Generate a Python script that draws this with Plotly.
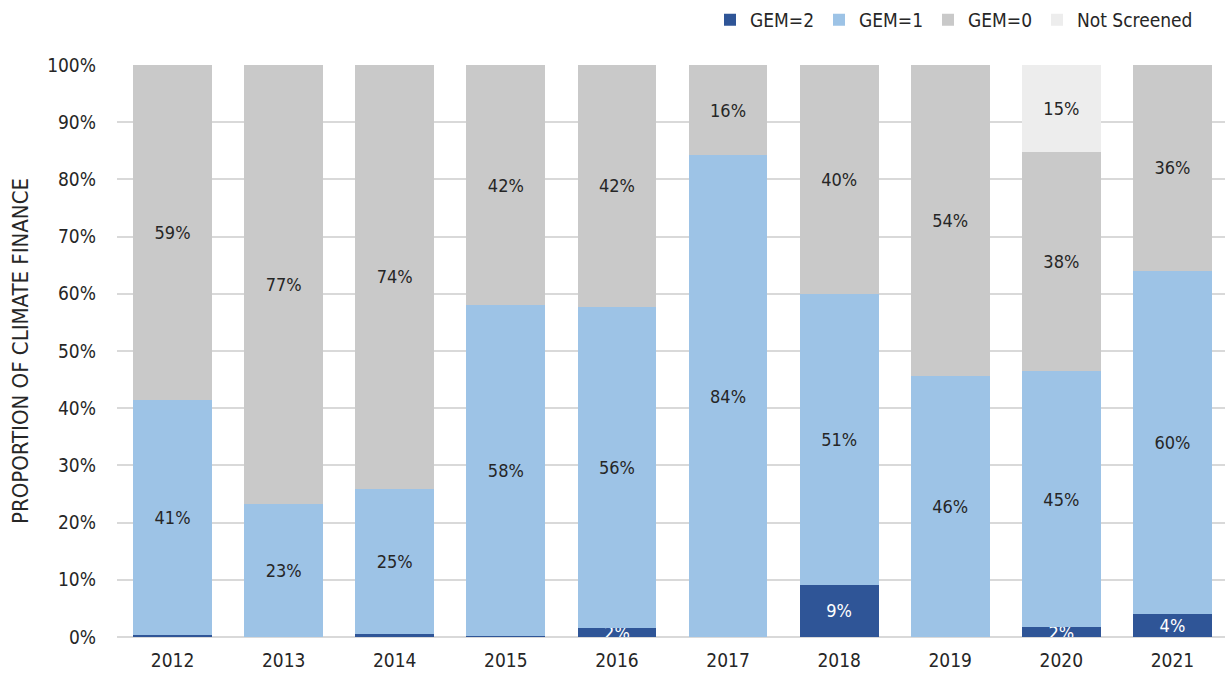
import plotly.graph_objects as go

# Share of climate finance by gender equality marker (values in %)
years = ["2012", "2013", "2014", "2015", "2016", "2017", "2018", "2019", "2020", "2021"]
gem2 = [0.4, 0.0, 0.5, 0.1, 1.6, 0.0, 9.1, 0.0, 1.7, 4.0]
gem1 = [41.0, 23.2, 25.4, 57.9, 56.1, 84.2, 50.9, 45.6, 44.8, 60.0]
gem0 = [58.6, 76.8, 74.1, 42.0, 42.3, 15.8, 40.0, 54.4, 38.3, 36.0]
not_screened = [0, 0, 0, 0, 0, 0, 0, 0, 15.2, 0]

y_ticks = [0, 10, 20, 30, 40, 50, 60, 70, 80, 90, 100]

FONT = "DejaVu Sans Condensed, Liberation Sans Narrow, sans-serif"
DARK = "#262626"
SIZE = 19


def labels(vals):
    # only label segments of at least 1%
    return [f"{round(v)}%" if v >= 1 else "" for v in vals]


series = [
    ("GEM=2", gem2, "#2F5597", "white"),
    ("GEM=1", gem1, "#9DC3E6", DARK),
    ("GEM=0", gem0, "#C9C9C9", DARK),
    ("Not Screened", not_screened, "#EDEDED", DARK),
]

fig = go.Figure()
for name, vals, color, txtcolor in series:
    fig.add_trace(go.Bar(
        x=years,
        y=vals,
        name=name,
        marker=dict(color=color, line=dict(width=0)),
        text=labels(vals),
        textposition="inside",
        insidetextanchor="middle",
        constraintext="none",
        textfont=dict(family=FONT, size=18, color=txtcolor),
        hoverinfo="x+y+name",
    ))

fig.update_layout(
    barmode="stack",
    bargap=0.29,
    width=1228,
    height=682,
    margin=dict(l=117, r=0, t=65, b=45, autoexpand=False),
    plot_bgcolor="white",
    paper_bgcolor="white",
    font=dict(family=FONT, size=SIZE, color=DARK),
    legend=dict(
        orientation="h",
        x=0.973, xanchor="right",
        y=1.079, yanchor="middle",
        font=dict(family=FONT, size=SIZE, color=DARK),
        traceorder="normal",
        itemwidth=30,
        tracegroupgap=0,
    ),
    xaxis=dict(
        showgrid=False,
        showline=False,
        ticks="",
        ticklabelstandoff=10,
        tickfont=dict(family=FONT, size=SIZE, color=DARK),
    ),
    yaxis=dict(
        range=[0, 100],
        tickvals=y_ticks,
        ticktext=[f"{v}%" for v in y_ticks],
        showgrid=True,
        gridcolor="#D9D9D9",
        gridwidth=1.5,
        zeroline=True,
        zerolinecolor="#D9D9D9",
        zerolinewidth=1.5,
        ticks="",
        ticklabelstandoff=20,
        tickfont=dict(family=FONT, size=SIZE, color=DARK),
        title=dict(text="PROPORTION OF CLIMATE FINANCE", font=dict(family=FONT, size=22, color=DARK), standoff=12),
    ),
)

fig.write_html(
    "out.html",
    config={"displayModeBar": False},
    post_script="document.body.style.margin='0';document.body.style.overflow='hidden';",
)
